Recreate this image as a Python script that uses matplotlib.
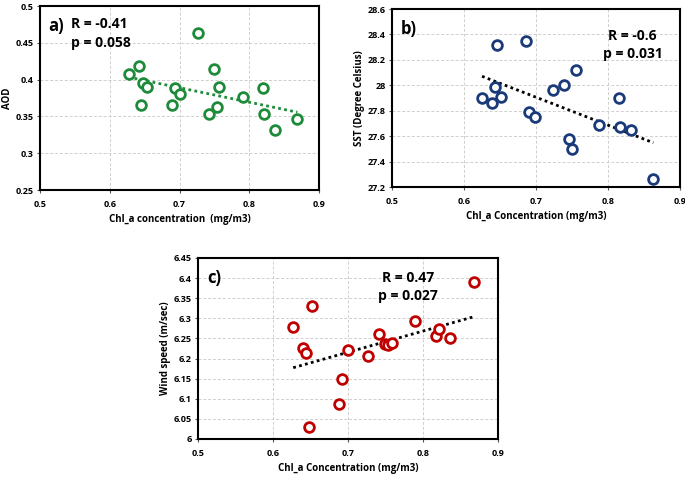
import numpy as np
import matplotlib
matplotlib.use("Agg")
import matplotlib.pyplot as plt

plt.rcParams['font.family'] = ['Open Sans', 'DejaVu Sans']
plt.rcParams['font.weight'] = 'bold'

# panel a: AOD vs Chl_a
chl_a = [0.627, 0.642, 0.645, 0.648, 0.653, 0.689, 0.693, 0.700, 0.727, 0.742,
         0.749, 0.754, 0.757, 0.791, 0.819, 0.821, 0.837, 0.869]
aod = [0.408, 0.418, 0.365, 0.395, 0.390, 0.366, 0.389, 0.380, 0.464, 0.353,
       0.415, 0.363, 0.390, 0.377, 0.389, 0.353, 0.331, 0.346]

# panel b: SST vs Chl_a
chl_b = [0.625, 0.639, 0.643, 0.646, 0.651, 0.686, 0.690, 0.698, 0.724, 0.739,
         0.746, 0.750, 0.755, 0.787, 0.815, 0.817, 0.832, 0.863]
sst = [27.90, 27.86, 27.99, 28.32, 27.91, 28.35, 27.79, 27.75, 27.96, 28.00,
       27.58, 27.50, 28.12, 27.69, 27.90, 27.67, 27.65, 27.26]

# panel c: wind speed vs Chl_a
chl_c = [0.627, 0.640, 0.644, 0.648, 0.652, 0.688, 0.692, 0.700, 0.727, 0.741,
         0.749, 0.754, 0.759, 0.790, 0.818, 0.821, 0.836, 0.868]
wind = [6.278, 6.227, 6.213, 6.029, 6.331, 6.087, 6.150, 6.220, 6.207, 6.261,
        6.235, 6.233, 6.238, 6.293, 6.257, 6.273, 6.251, 6.390]

fig = plt.figure(figsize=(6.85, 4.84), dpi=100)


def panel(rect, x, y, color, linecolor, ylim, yticks, ytl, xlabel, ylabel,
          tag, rtxt, ptxt, rpos, ha):
    ax = fig.add_axes(rect)
    ax.grid(True, ls=(0, (3, 2)), color='#cfcfcf', lw=0.7)
    ax.set_axisbelow(True)
    m, b = np.polyfit(x, y, 1)
    xs = np.array([min(x), max(x)])
    ax.plot(xs, m * xs + b, ls=(0, (1, 1.2)), color=linecolor, lw=2)
    ax.plot(x, y, 'o', ms=7, mfc='white', mec=color, mew=2, ls='none')
    ax.set_xlim(0.5, 0.9)
    ax.set_ylim(*ylim)
    ax.set_xticks([0.5, 0.6, 0.7, 0.8, 0.9])
    ax.set_xticklabels(['0.5', '0.6', '0.7', '0.8', '0.9'])
    ax.set_yticks(yticks)
    ax.set_yticklabels(ytl)
    ax.tick_params(labelsize=6.5, length=2.5, width=0.8, color='#555555', pad=2)
    ax.tick_params(axis='x', pad=5)
    for s in ax.spines.values():
        s.set_linewidth(1.5)
    ax.set_xlabel(xlabel, fontsize=7, fontweight='bold', labelpad=3)
    ax.set_ylabel(ylabel, fontsize=7, fontweight='bold', labelpad=2)
    ax.text(0.03, 0.94, tag, transform=ax.transAxes, fontsize=12,
            fontweight='bold', va='top', ha='left')
    ax.text(rpos[0], rpos[1], rtxt, transform=ax.transAxes, fontsize=10,
            fontweight='bold', va='center', ha=ha)
    ax.text(rpos[0], rpos[1] - 0.1, ptxt, transform=ax.transAxes, fontsize=10,
            fontweight='bold', va='center', ha=ha)
    return ax


panel([0.0584, 0.6074, 0.4073, 0.380], chl_a, aod, '#1e8b3a', '#1e8b3a',
      (0.25, 0.5), [0.25, 0.3, 0.35, 0.4, 0.45, 0.5],
      ['0.25', '0.3', '0.35', '0.4', '0.45', '0.5'],
      'Chl_a concentration  (mg/m3)', 'AOD', 'a)',
      'R = -0.41', 'p = 0.058', (0.11, 0.90), 'left')

panel([0.5723, 0.6136, 0.4204, 0.3678], chl_b, sst, '#1a3a7a', 'black',
      (27.2, 28.6), [27.2, 27.4, 27.6, 27.8, 28.0, 28.2, 28.4, 28.6],
      ['27.2', '27.4', '27.6', '27.8', '28', '28.2', '28.4', '28.6'],
      'Chl_a Concentration (mg/m3)', 'SST (Degree Celsius)', 'b)',
      'R = -0.6', 'p = 0.031', (0.835, 0.85), 'center')

panel([0.289, 0.093, 0.438, 0.374], chl_c, wind, '#c00000', 'black',
      (6.0, 6.45), [6.0, 6.05, 6.1, 6.15, 6.2, 6.25, 6.3, 6.35, 6.4, 6.45],
      ['6', '6.05', '6.1', '6.15', '6.2', '6.25', '6.3', '6.35', '6.4', '6.45'],
      'Chl_a Concentration (mg/m3)', 'Wind speed (m/sec)', 'c)',
      'R = 0.47', 'p = 0.027', (0.70, 0.89), 'center')

fig.savefig('out.png', dpi=100)
